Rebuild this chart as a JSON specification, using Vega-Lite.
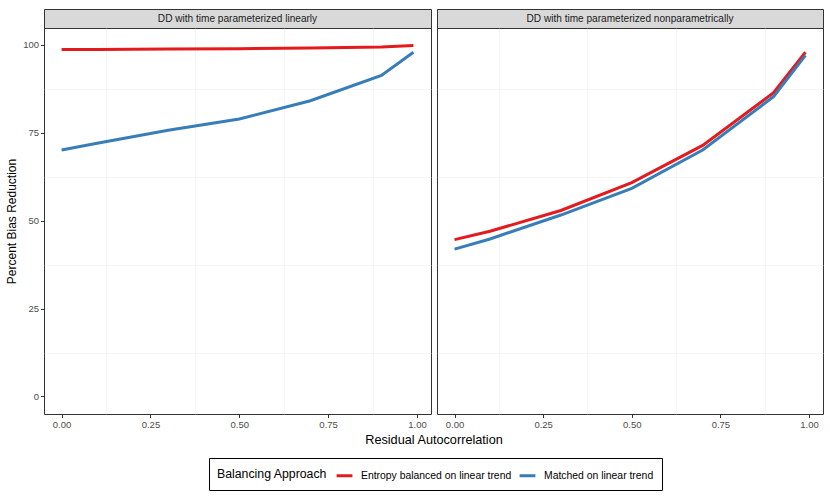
{
  "$schema": "https://vega.github.io/schema/vega-lite/v6.json",
  "padding": {"left": 5, "top": 8, "right": 7, "bottom": 6},
  "background": "white",
  "datasets": {
    "bias": [
      {"panel": "linear", "approach": "Entropy balanced on linear trend", "rho": 0, "pbr": 98.7},
      {"panel": "linear", "approach": "Entropy balanced on linear trend", "rho": 0.1, "pbr": 98.7},
      {"panel": "linear", "approach": "Entropy balanced on linear trend", "rho": 0.3, "pbr": 98.8},
      {"panel": "linear", "approach": "Entropy balanced on linear trend", "rho": 0.5, "pbr": 98.9},
      {"panel": "linear", "approach": "Entropy balanced on linear trend", "rho": 0.7, "pbr": 99.1},
      {"panel": "linear", "approach": "Entropy balanced on linear trend", "rho": 0.9, "pbr": 99.4},
      {"panel": "linear", "approach": "Entropy balanced on linear trend", "rho": 0.99, "pbr": 99.8},
      {"panel": "linear", "approach": "Matched on linear trend", "rho": 0, "pbr": 70.1},
      {"panel": "linear", "approach": "Matched on linear trend", "rho": 0.1, "pbr": 72.0},
      {"panel": "linear", "approach": "Matched on linear trend", "rho": 0.3, "pbr": 75.7},
      {"panel": "linear", "approach": "Matched on linear trend", "rho": 0.5, "pbr": 78.9},
      {"panel": "linear", "approach": "Matched on linear trend", "rho": 0.7, "pbr": 84.1},
      {"panel": "linear", "approach": "Matched on linear trend", "rho": 0.9, "pbr": 91.3},
      {"panel": "linear", "approach": "Matched on linear trend", "rho": 0.99, "pbr": 97.9},
      {"panel": "nonparam", "approach": "Entropy balanced on linear trend", "rho": 0, "pbr": 44.6},
      {"panel": "nonparam", "approach": "Entropy balanced on linear trend", "rho": 0.1, "pbr": 47.0},
      {"panel": "nonparam", "approach": "Entropy balanced on linear trend", "rho": 0.3, "pbr": 52.9},
      {"panel": "nonparam", "approach": "Entropy balanced on linear trend", "rho": 0.5, "pbr": 60.8},
      {"panel": "nonparam", "approach": "Entropy balanced on linear trend", "rho": 0.7, "pbr": 71.4},
      {"panel": "nonparam", "approach": "Entropy balanced on linear trend", "rho": 0.9, "pbr": 86.4},
      {"panel": "nonparam", "approach": "Entropy balanced on linear trend", "rho": 0.99, "pbr": 97.9},
      {"panel": "nonparam", "approach": "Matched on linear trend", "rho": 0, "pbr": 41.9},
      {"panel": "nonparam", "approach": "Matched on linear trend", "rho": 0.1, "pbr": 44.8},
      {"panel": "nonparam", "approach": "Matched on linear trend", "rho": 0.3, "pbr": 51.6},
      {"panel": "nonparam", "approach": "Matched on linear trend", "rho": 0.5, "pbr": 59.2},
      {"panel": "nonparam", "approach": "Matched on linear trend", "rho": 0.7, "pbr": 70.1},
      {"panel": "nonparam", "approach": "Matched on linear trend", "rho": 0.9, "pbr": 85.3},
      {"panel": "nonparam", "approach": "Matched on linear trend", "rho": 0.99, "pbr": 97.0}
    ]
  },
  "columns": 2,
  "bounds": "flush",
  "spacing": {"row": 0, "column": 6},
  "concat": [
    {
      "width": 387,
      "height": 19,
      "data": {"values": [{"strip": "DD with time parameterized linearly"}]},
      "view": {"fill": "#D9D9D9", "stroke": "#333333"},
      "mark": {"type": "text", "fontSize": 10.1, "color": "#1A1A1A", "font": "Liberation Sans"},
      "encoding": {"text": {"field": "strip"}}
    },
    {
      "width": 386,
      "height": 19,
      "data": {"values": [{"strip": "DD with time parameterized nonparametrically"}]},
      "view": {"fill": "#D9D9D9", "stroke": "#333333"},
      "mark": {"type": "text", "fontSize": 10.1, "color": "#1A1A1A", "font": "Liberation Sans"},
      "encoding": {"text": {"field": "strip"}}
    },
    {
      "width": 387,
      "height": 386,
      "data": {"name": "bias"},
      "transform": [{"filter": "datum.panel == 'linear'"}],
      "resolve": {"axis": {"x": "independent", "y": "independent"}},
      "layer": [
        {
          "mark": {"type": "line", "opacity": 0},
          "encoding": {
            "x": {"field": "rho", "type": "quantitative", "scale": {"domain": [-0.0495, 1.0395], "nice": false, "zero": false}, "axis": {"orient": "top", "values": [0.125, 0.375, 0.625, 0.875], "labels": false, "ticks": false, "domain": false, "title": null, "gridWidth": 0.5, "minExtent": 0, "maxExtent": 0}},
            "y": {"field": "pbr", "type": "quantitative", "scale": {"domain": [-4.99, 104.8], "nice": false, "zero": false}, "axis": {"orient": "right", "values": [12.5, 37.5, 62.5, 87.5], "labels": false, "ticks": false, "domain": false, "title": null, "gridWidth": 0.5, "minExtent": 0, "maxExtent": 0}},
            "detail": {"field": "approach"}
          }
        },
        {
          "mark": {"type": "line", "strokeWidth": 3},
          "encoding": {
            "x": {
              "field": "rho", "type": "quantitative",
              "axis": {"orient": "bottom", "values": [0, 0.25, 0.5, 0.75, 1], "format": ".2f", "title": "Residual Autocorrelation", "titleX": 389.5, "titleFontSize": 12.7}
            },
            "y": {
              "field": "pbr", "type": "quantitative",
              "axis": {"orient": "left", "values": [0, 25, 50, 75, 100], "title": "Percent Bias Reduction"}
            },
            "color": {
              "field": "approach", "type": "nominal",
              "scale": {"domain": ["Entropy balanced on linear trend", "Matched on linear trend"], "range": ["#E41A1C", "#377EB8"]},
              "legend": {"title": "Balancing Approach"}
            }
          }
        }
      ]
    },
    {
      "width": 386,
      "height": 386,
      "data": {"name": "bias"},
      "transform": [{"filter": "datum.panel == 'nonparam'"}],
      "resolve": {"axis": {"x": "independent", "y": "independent"}},
      "layer": [
        {
          "mark": {"type": "line", "opacity": 0},
          "encoding": {
            "x": {"field": "rho", "type": "quantitative", "scale": {"domain": [-0.0495, 1.0395], "nice": false, "zero": false}, "axis": {"orient": "top", "values": [0.125, 0.375, 0.625, 0.875], "labels": false, "ticks": false, "domain": false, "title": null, "gridWidth": 0.5, "minExtent": 0, "maxExtent": 0}},
            "y": {"field": "pbr", "type": "quantitative", "scale": {"domain": [-4.99, 104.8], "nice": false, "zero": false}, "axis": {"orient": "right", "values": [12.5, 37.5, 62.5, 87.5], "labels": false, "ticks": false, "domain": false, "title": null, "gridWidth": 0.5, "minExtent": 0, "maxExtent": 0}},
            "detail": {"field": "approach"}
          }
        },
        {
          "mark": {"type": "line", "strokeWidth": 3},
          "encoding": {
            "x": {
              "field": "rho", "type": "quantitative",
              "axis": {"orient": "bottom", "values": [0, 0.25, 0.5, 0.75, 1], "format": ".2f", "title": null}
            },
            "y": {
              "field": "pbr", "type": "quantitative",
              "axis": {"orient": "left", "values": [0, 25, 50, 75, 100], "labels": false, "ticks": false, "domain": false, "title": null, "minExtent": 0, "maxExtent": 0}
            },
            "color": {"field": "approach", "type": "nominal"}
          }
        }
      ]
    }
  ],
  "config": {
    "font": "Liberation Sans",
    "view": {"stroke": "#333333", "strokeWidth": 1},
    "axis": {
      "grid": true,
      "gridColor": "#EBEBEB",
      "gridWidth": 1,
      "domain": false,
      "tickColor": "#333333",
      "tickSize": 3.5,
      "labelColor": "#4D4D4D",
      "labelFontSize": 9.5,
      "labelPadding": 2,
      "titleColor": "#000000",
      "titleFontSize": 12,
      "titleFontWeight": "normal",
      "titlePadding": 4
    },
    "legend": {
      "orient": "none",
      "legendX": 165,
      "legendY": 449,
      "direction": "horizontal",
      "titleOrient": "left",
      "titleFontSize": 12.3,
      "titleFontWeight": "normal",
      "titleColor": "#000000",
      "titlePadding": 7,
      "labelFontSize": 10.4,
      "labelColor": "#000000",
      "labelOffset": 7,
      "symbolType": "stroke",
      "symbolStrokeWidth": 3,
      "symbolSize": 250,
      "strokeColor": "#000000",
      "padding": 8,
      "columnPadding": 1
    }
  }
}
